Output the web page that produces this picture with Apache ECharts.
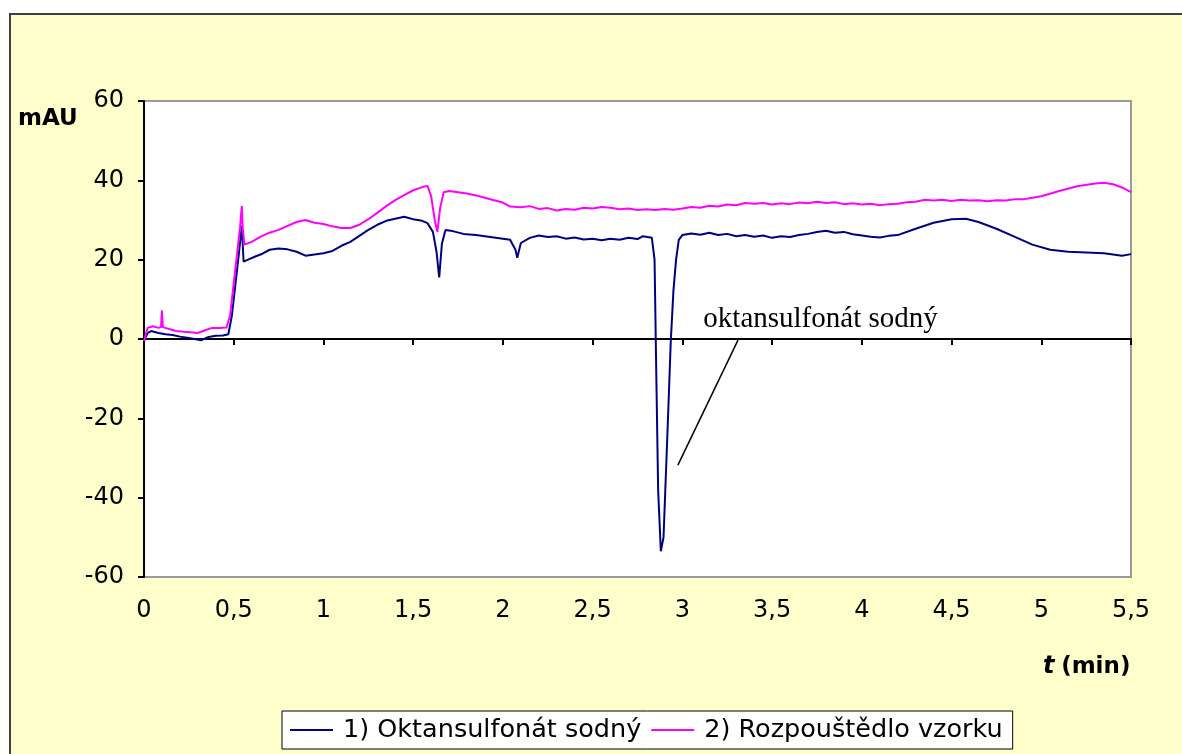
<!DOCTYPE html>
<html><head><meta charset="utf-8">
<script src="https://cdn.jsdelivr.net/npm/echarts@6/dist/echarts.min.js"></script>
<style>html,body{margin:0;padding:0;background:#fff}#c{width:1182px;height:754px}</style>
</head><body><div id="c"></div>
<script>
const seriesNames = ['1) Oktansulfonát sodný', '2) Rozpouštědlo vzorku'];
const yAxisTitle = 'mAU';
const annotationText = 'oktansulfonát sodný';
const annotationLine = [[3.31, -0.3], [2.975, -31.8]];
const annotationTextAt = [3.77, 5.0];

// [t (min), mAU]
const oktansulfonat = [
  [0.00,-0.5],[0.02,1.5],[0.04,2.0],[0.08,1.5],[0.12,1.2],[0.16,1.0],[0.20,0.6],[0.24,0.3],[0.28,0.0],[0.32,-0.3],
  [0.36,0.5],[0.40,0.8],[0.44,0.9],[0.47,1.2],[0.49,6],[0.51,14],[0.53,22],[0.545,28.5],[0.555,19.5],[0.58,20],
  [0.62,20.8],[0.66,21.5],[0.70,22.5],[0.75,22.8],[0.80,22.6],[0.85,22.0],[0.90,21.0],[0.95,21.3],[1.00,21.6],[1.05,22.2],
  [1.10,23.5],[1.15,24.5],[1.20,26.0],[1.25,27.5],[1.30,28.8],[1.35,29.8],[1.40,30.3],[1.45,30.8],[1.50,30.2],[1.55,29.8],
  [1.58,29.2],[1.61,27],[1.63,22],[1.645,15.5],[1.66,24],[1.68,27.5],[1.72,27.2],[1.78,26.5],[1.85,26.2],[1.92,25.8],
  [1.98,25.4],[2.04,25.0],[2.07,22.5],[2.08,20.5],[2.10,24.2],[2.15,25.5],[2.20,26.1],[2.25,25.7],[2.30,25.9],[2.35,25.3],
  [2.40,25.6],[2.45,25.1],[2.50,25.3],[2.55,24.9],[2.60,25.3],[2.65,25.0],[2.70,25.5],[2.75,25.2],[2.78,25.9],[2.83,25.5],
  [2.845,20],[2.855,-9.5],[2.865,-38],[2.88,-53.5],[2.895,-50],[2.905,-38],[2.92,-20],[2.935,-1],[2.95,12],[2.965,20],
  [2.98,25],[3.00,26.2],[3.05,26.6],[3.10,26.3],[3.15,26.8],[3.20,26.2],[3.25,26.5],[3.30,25.9],[3.35,26.2],[3.40,25.8],
  [3.45,26.1],[3.50,25.5],[3.55,25.9],[3.60,25.7],[3.65,26.2],[3.70,26.5],[3.75,27.0],[3.80,27.3],[3.85,26.8],[3.90,27.0],
  [3.95,26.4],[4.00,26.1],[4.05,25.8],[4.10,25.6],[4.15,26.0],[4.20,26.2],[4.30,27.8],[4.40,29.3],[4.50,30.2],[4.58,30.3],
  [4.65,29.5],[4.75,27.8],[4.85,25.8],[4.95,23.8],[5.05,22.5],[5.15,22.0],[5.25,21.8],[5.35,21.6],[5.45,21.0],[5.50,21.4]
];

const rozpoustedlo = [
  [0.00,-0.5],[0.02,2.8],[0.05,3.2],[0.08,2.8],[0.095,3.0],[0.10,7.2],[0.105,3.0],[0.14,2.5],[0.18,2.0],[0.22,1.8],
  [0.26,1.7],[0.30,1.5],[0.34,2.2],[0.38,2.8],[0.42,2.8],[0.46,2.9],[0.48,6],[0.50,14],[0.52,22],[0.535,28],
  [0.545,33.5],[0.55,28],[0.56,23.8],[0.60,24.5],[0.65,25.8],[0.70,26.8],[0.75,27.5],[0.80,28.5],[0.85,29.5],[0.90,30.0],
  [0.95,29.3],[1.00,29.0],[1.05,28.4],[1.10,28.0],[1.15,28.0],[1.20,28.8],[1.25,30.2],[1.30,31.8],[1.35,33.5],[1.40,35.0],
  [1.45,36.3],[1.50,37.5],[1.55,38.3],[1.58,38.6],[1.60,36],[1.62,30],[1.635,27],[1.65,33],[1.67,37],[1.70,37.3],
  [1.75,37.0],[1.80,36.7],[1.85,36.2],[1.90,35.6],[1.95,35.0],[2.00,34.4],[2.04,33.4],[2.10,33.2],[2.15,33.5],[2.20,32.8],
  [2.25,33.0],[2.30,32.4],[2.35,32.8],[2.40,32.6],[2.45,33.1],[2.50,32.9],[2.55,33.3],[2.60,33.1],[2.65,32.7],[2.70,32.9],
  [2.75,32.5],[2.80,32.7],[2.85,32.5],[2.90,32.8],[2.95,32.6],[3.00,32.9],[3.05,33.3],[3.10,33.1],[3.15,33.6],[3.20,33.4],
  [3.25,33.9],[3.30,33.7],[3.35,34.3],[3.40,34.1],[3.45,34.3],[3.50,33.9],[3.55,34.2],[3.60,34.0],[3.65,34.4],[3.70,34.2],
  [3.75,34.6],[3.80,34.3],[3.85,34.5],[3.90,34.0],[3.95,34.2],[4.00,33.9],[4.05,34.1],[4.10,33.7],[4.15,34.0],[4.20,34.1],
  [4.25,34.5],[4.30,34.6],[4.35,35.1],[4.40,34.9],[4.45,35.1],[4.50,34.8],[4.55,35.1],[4.60,34.9],[4.65,35.0],[4.70,34.7],
  [4.75,35.0],[4.80,34.9],[4.85,35.2],[4.90,35.2],[4.95,35.6],[5.00,36.0],[5.10,37.3],[5.20,38.5],[5.30,39.2],[5.35,39.4],
  [5.40,39.0],[5.45,38.2],[5.50,37.0]
];

const chart = echarts.init(document.getElementById('c'));
chart.setOption({
  backgroundColor: '#ffffff',
  animation: false,
  graphic: [
    { type: 'rect', z: -10, shape: { x: 10, y: 14, width: 1200, height: 800 },
      style: { fill: '#FFFFCC', stroke: '#404040', lineWidth: 2 } },
    { type: 'text', left: 18, top: 108, z: 10,
      style: { text: yAxisTitle, font: 'bold 23px "DejaVu Sans"', fill: '#000' } },
    { type: 'text', left: 1043, top: 655, z: 10,
      style: { text: '{i|t}  {b|(min)}', fill: '#000',
        rich: { i: { font: 'italic bold 24px "DejaVu Sans"', fill: '#000' },
                b: { font: 'bold 23px "DejaVu Sans"', fill: '#000' } } } }
  ],
  grid: { left: 144, top: 101, right: 51, bottom: 177, show: true,
          backgroundColor: '#ffffff', borderColor: '#9a9a9a', borderWidth: 2 },
  legend: {
    left: 282, top: 711, itemGap: 10, itemWidth: 43, itemHeight: 2,
    padding: [6, 10, 6, 8], backgroundColor: '#ffffff', borderColor: '#000', borderWidth: 1,
    borderRadius: 0, icon: 'rect',
    textStyle: { fontFamily: 'DejaVu Sans', fontSize: 25.5, color: '#000', padding: [0, 0, 0, 5] },
    data: seriesNames
  },
  xAxis: {
    type: 'value', min: 0, max: 5.5, interval: 0.5,
    axisLine: { lineStyle: { color: '#000', width: 2 } },
    axisTick: { length: 6, lineStyle: { color: '#000', width: 2 } },
    splitLine: { show: false },
    axisLabel: { margin: 22, fontFamily: 'DejaVu Sans', fontSize: 24, color: '#000',
      formatter: v => String(v).replace('.', ',') }
  },
  yAxis: {
    type: 'value', min: -60, max: 60, interval: 20,
    axisLine: { show: true, lineStyle: { color: '#000', width: 2 } },
    axisTick: { show: true, length: 6, lineStyle: { color: '#000', width: 2 } },
    splitLine: { show: false },
    axisLabel: { margin: 20, fontFamily: 'DejaVu Sans', fontSize: 24, color: '#000' }
  },
  series: [
    { name: seriesNames[0], type: 'line', showSymbol: false, symbol: 'none',
      data: oktansulfonat, lineStyle: { color: '#000080', width: 2 }, itemStyle: { color: '#000080' },
      markLine: { silent: true, symbol: 'none', label: { show: false },
        lineStyle: { color: '#000', width: 1.5, type: 'solid' },
        data: [[{ coord: annotationLine[0] }, { coord: annotationLine[1] }]] },
      markPoint: { symbol: 'circle', symbolSize: 0,
        label: { show: true, formatter: annotationText, position: 'inside',
          fontFamily: 'Liberation Serif', fontSize: 29, color: '#000' },
        data: [{ coord: annotationTextAt }] } },
    { name: seriesNames[1], type: 'line', showSymbol: false, symbol: 'none',
      data: rozpoustedlo, lineStyle: { color: '#FF00FF', width: 2 }, itemStyle: { color: '#FF00FF' } }
  ]
});
</script></body></html>
